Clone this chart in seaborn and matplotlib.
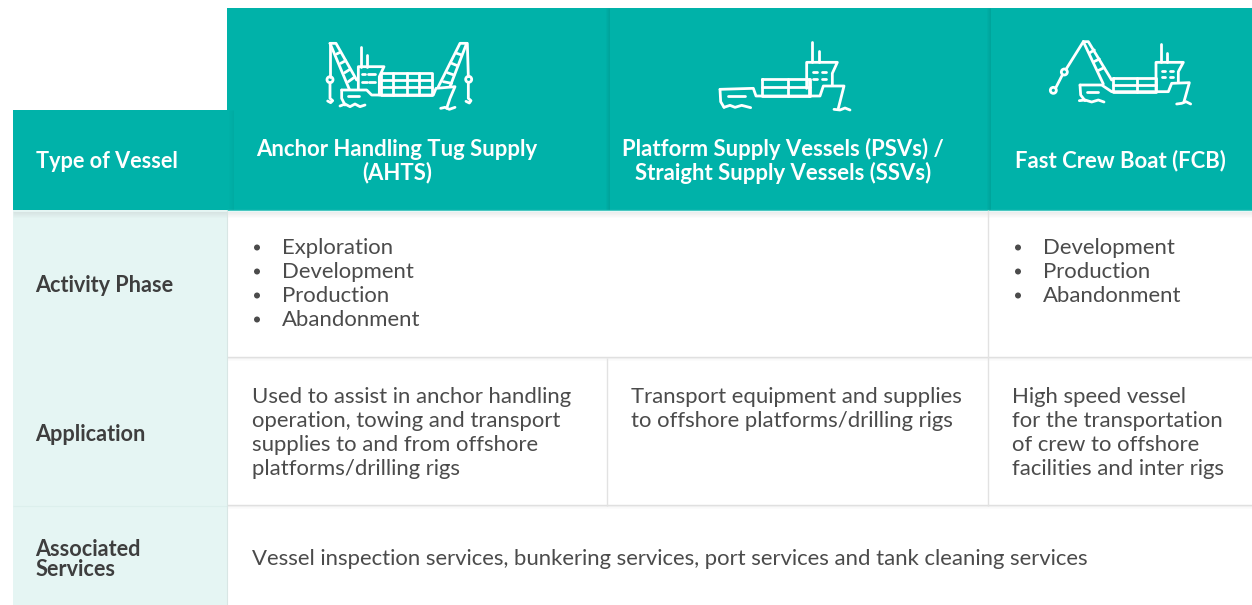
import numpy as np
import matplotlib.pyplot as plt
import seaborn as sns
from matplotlib.colors import ListedColormap
from matplotlib.patches import Circle

sns.set_theme(style="white")
plt.rcParams["font.family"] = ["Lato", "DejaVu Sans"]

TEAL = "#00b2a9"
PALE = "#e5f5f3"
TEXT = "#4b4b4b"
LABEL = "#3e3e3e"

row_labels = ["Type of Vessel", "Activity Phase", "Application", "Associated\nServices"]
vessel_names = [
    ["Anchor Handling Tug Supply", "(AHTS)"],
    ["Platform Supply Vessels (PSVs) /", "Straight Supply Vessels (SSVs)"],
    ["Fast Crew Boat (FCB)"],
]
phases_ahts_psv = ["Exploration", "Development", "Production", "Abandonment"]
phases_fcb = ["Development", "Production", "Abandonment"]
applications = [
    ["Used to assist in anchor handling", "operation, towing and transport",
     "supplies to and from offshore", "platforms/drilling rigs"],
    ["Transport equipment and supplies", "to offshore platforms/drilling rigs"],
    ["High speed vessel", "for the transportation",
     "of crew to offshore", "facilities and inter rigs"],
]
services = "Vessel inspection services, bunkering services, port services and tank cleaning services"

# table layout in pixels
col_x = [13, 227, 608, 989, 1252]
row_y = [8, 110, 210, 358, 506, 605]

# background as a code per pixel: 0 white, 1 teal, 2 pale
grid = np.zeros((605, 1252), dtype=int)
grid[row_y[0]:row_y[2], col_x[1]:] = 1
grid[row_y[1]:row_y[2], col_x[0]:col_x[1]] = 1
grid[row_y[2]:, col_x[0]:col_x[1]] = 2

fig = plt.figure(figsize=(12.52, 6.05), dpi=100)
ax = fig.add_axes([0, 0, 1, 1])
sns.heatmap(grid, cmap=ListedColormap(["white", TEAL, PALE]), vmin=0, vmax=2,
            cbar=False, xticklabels=False, yticklabels=False, ax=ax)


def soft_v(x, y0, y1, color, n=5, a=0.05):
    # fake css shadow, a few fading lines to the left of x
    for i in range(n):
        ax.vlines(x - i, y0, y1, color=color, lw=0.72, alpha=a * (n - i))


def soft_h(y, x0, x1, color, n=5, a=0.03):
    for i in range(n):
        ax.hlines(y + i, x0, x1, color=color, lw=0.72, alpha=a * (n - i))


# header and row shadows
soft_v(608.5, row_y[0], row_y[2], "#008078", n=4, a=0.07)
soft_v(989.5, row_y[0], row_y[2], "#008078", n=4, a=0.07)
soft_v(232.5, row_y[1], row_y[2], "#008078", n=5, a=0.025)
soft_h(row_y[2] + 1.5, col_x[0], 1252, "#888888", n=6, a=0.025)
ax.hlines(row_y[2] - 0.5, col_x[1], 1252, color="#4cc8c1", lw=0.9)

# grid lines
for y in row_y[3:5]:
    ax.hlines(y - 1, col_x[1], 1252, color="#e0e0e0", lw=1)
    soft_h(y, col_x[1], 1252, "#999999", n=3, a=0.03)
ax.hlines(row_y[4] - 0.5, col_x[0], col_x[1], color="#dcefec", lw=0.8)
ax.vlines(607, row_y[3], row_y[4], color="#e2e2e2", lw=1)
ax.vlines(988, row_y[2], row_y[4], color="#e2e2e2", lw=1)
ax.vlines(col_x[1], row_y[2], 605, color="#d8e6e4", lw=0.8)

# row labels
label_base = [168, 292, 441]
ax.text(35.5, label_base[0], row_labels[0], color="white", fontsize=15.6, fontweight="bold")
ax.text(35.5, label_base[1], row_labels[1], color=LABEL, fontsize=15.6, fontweight="bold")
ax.text(35.5, label_base[2], row_labels[2], color=LABEL, fontsize=15.6, fontweight="bold")
for i, part in enumerate(row_labels[3].split("\n")):
    ax.text(35.5, 555.5 + 20 * i, part, color=LABEL, fontsize=15.6, fontweight="bold")

# vessel names
name_cx = [397, 783, 1120]
name_base = [[155.5, 179.5], [155.5, 179.5], [167.5]]
for cx, lines, bases in zip(name_cx, vessel_names, name_base):
    for line, b in zip(lines, bases):
        ax.text(cx, b, line, color="white", fontsize=15.9, fontweight="bold", ha="center")


def body(x, y, lines):
    for i, line in enumerate(lines):
        ax.text(x, y + 24 * i, line, color=TEXT, fontsize=15.9)


def bullets(x, y, lines):
    body(x + 25, y, lines)
    for i in range(len(lines)):
        ax.add_patch(Circle((x, y - 6.5 + 24 * i), 3, color=TEXT, lw=0))


bullets(257, 254, phases_ahts_psv)
bullets(1018, 254, phases_fcb)
body(252, 403, applications[0])
body(631, 403, applications[1])
body(1012, 403, applications[2])
body(252, 565, [services])


# icons, traced in 3x zoom coordinates
def icon(ox, oy, paths, circles):
    for p in paths:
        p = np.array(p, dtype=float)
        ax.plot(ox + p[:, 0] / 3, oy + p[:, 1] / 3, color="white", lw=2,
                solid_capstyle="round", solid_joinstyle="round")
    for cx, cy, r in circles:
        ax.add_patch(Circle((ox + cx / 3, oy + cy / 3), r / 3, fc="none", ec="white", lw=2))


def box(x0, y0, x1, y1):
    return [(x0, y0), (x1, y0), (x1, y1), (x0, y1), (x0, y0)]


icon(310, 30, [
    [(95, 180), (170, 180), (185, 195), (370, 195), (378, 175), (435, 170), (420, 205), (410, 235)],
    [(95, 180), (95, 205), (105, 225)],
    [(90, 228), (105, 222), (120, 230), (135, 222), (150, 230), (165, 225)],
    [(115, 197), (148, 197)],
    [(145, 178), (145, 110), (222, 110), (208, 140), (208, 195)],
    [(153, 52), (153, 110)], [(172, 75), (172, 110)],
    [(157, 133), (165, 133)], [(175, 133), (183, 133)], [(187, 133), (194, 133)],
    [(157, 155), (170, 155)], [(178, 155), (194, 155)],
    box(212, 130, 365, 195), [(212, 150), (365, 150)], [(212, 172), (365, 172)],
    [(250, 130), (250, 195)], [(290, 130), (290, 195)], [(327, 130), (327, 195)],
    # left crane
    [(60, 40), (78, 40), (140, 150)], [(60, 40), (118, 178)],
    [(80, 72), (92, 66)], [(92, 100), (107, 92)], [(104, 128), (120, 118)], [(115, 155), (133, 142)],
    [(60, 40), (60, 140)], [(60, 158), (60, 205), (68, 212), (62, 218), (53, 213)],
    # right crane
    [(470, 40), (450, 40), (385, 170)], [(470, 40), (420, 170)],
    [(440, 70), (455, 75)], [(425, 100), (442, 107)], [(412, 128), (432, 135)], [(400, 155), (425, 160)],
    [(472, 40), (475, 140)], [(475, 157), (475, 205), (483, 212), (478, 219), (468, 214)],
    [(392, 235), (405, 232), (418, 238), (435, 232)],
], [(60, 149, 9), (476, 148, 9)])

icon(700, 30, [
    [(60, 178), (160, 175), (168, 198), (360, 198), (370, 168), (432, 168), (415, 235)],
    [(60, 178), (62, 215), (72, 232)],
    [(72, 232), (90, 226), (105, 232), (125, 226), (152, 233)],
    [(85, 198), (135, 198)],
    [(320, 175), (320, 97), (412, 97), (397, 130), (397, 165)],
    [(335, 35), (335, 97)], [(356, 62), (356, 97)],
    [(338, 125), (350, 125)], [(365, 125), (378, 125)],
    [(338, 147), (350, 147)], [(365, 147), (378, 147)],
    box(185, 148, 330, 198), [(185, 170), (330, 170)],
    [(265, 148), (265, 198)], [(327, 148), (327, 198)],
    [(402, 238), (420, 240), (435, 234), (450, 240)],
], [])

icon(1030, 30, [
    [(160, 35), (108, 118)], [(97, 135), (78, 172)],
    [(160, 35), (175, 35), (245, 150)], [(160, 35), (220, 162)],
    [(180, 68), (193, 60)], [(192, 95), (208, 87)], [(204, 122), (222, 113)],
    [(150, 165), (215, 165), (245, 185), (415, 185), (425, 160), (478, 158), (462, 215)],
    [(150, 165), (152, 195), (165, 212)],
    [(172, 185), (205, 185)],
    [(148, 212), (165, 210), (185, 216), (205, 210), (222, 216)],
    [(378, 180), (378, 97), (460, 97), (445, 125), (445, 158)],
    [(392, 42), (392, 97)], [(410, 68), (410, 97)],
    box(248, 145, 378, 185), [(248, 165), (378, 165)], [(320, 145), (320, 185)],
    [(395, 122), (405, 122)], [(420, 122), (430, 122)],
    [(395, 142), (405, 142)], [(420, 142), (430, 142)],
    [(440, 222), (455, 220), (468, 215), (482, 222)],
], [(103, 126, 9), (70, 181, 9)])

ax.set_xlim(0, 1252)
ax.set_ylim(605, 0)
fig.savefig("out.png", dpi=100)
